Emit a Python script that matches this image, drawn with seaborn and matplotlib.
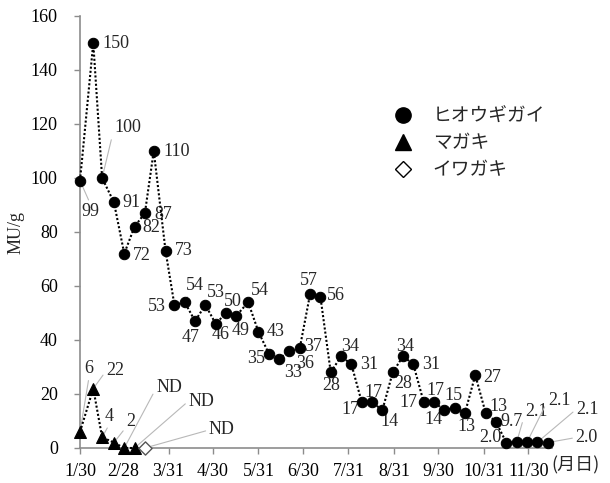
import numpy as np
import pandas as pd
import matplotlib
matplotlib.use('Agg')
import matplotlib.pyplot as plt
from matplotlib.lines import Line2D
import seaborn as sns

# データ (月/日, MU/g)
hiougi_dates = ['1/30', '2/8', '2/14', '2/22', '3/1', '3/8', '3/15', '3/21', '3/29', '4/4',
                '4/11', '4/18', '4/25', '5/2', '5/9', '5/16', '5/24', '5/31', '6/7', '6/14',
                '6/21', '6/28', '7/5', '7/12', '7/19', '7/26', '8/2', '8/9', '8/16', '8/23',
                '8/30', '9/6', '9/13', '9/20', '9/27', '10/4', '10/11', '10/18', '10/25', '11/1',
                '11/8', '11/15', '11/22', '11/29', '12/6', '12/13']
hiougi_mu = [99, 150, 100, 91, 72, 82, 87, 110, 73, 53,
             54, 47, 53, 46, 50, 49, 54, 43, 35, 33,
             36, 37, 57, 56, 28, 34, 31, 17, 17, 14,
             28, 34, 31, 17, 17, 14, 15, 13, 27, 13,
             9.7, 2.0, 2.1, 2.1, 2.1, 2.0]

magaki_dates = ['1/30', '2/8', '2/14', '2/22', '3/1', '3/8']
magaki_mu = [6, 22, 4, 2, 0, 0]
magaki_text = ['6', '22', '4', '2', 'ND', 'ND']

iwagaki_dates = ['3/15']
iwagaki_mu = [0]
iwagaki_text = ['ND']

xtick_labels = ['1/30', '2/28', '3/31', '4/30', '5/31', '6/30', '7/31', '8/31', '9/30', '10/31', '11/30']

start = pd.Timestamp('2013-01-30')


def day(s):
    return (pd.to_datetime('2013/' + s, format='%Y/%m/%d') - start).days


df_h = pd.DataFrame({'day': [day(d) for d in hiougi_dates], 'mu': hiougi_mu})
df_m = pd.DataFrame({'day': [day(d) for d in magaki_dates], 'mu': magaki_mu})
df_i = pd.DataFrame({'day': [day(d) for d in iwagaki_dates], 'mu': iwagaki_mu})

# ラベル位置 (dx, dy [px], ha, 引出線)
h_pos = [(1, -31, 'left', (0.5, 1)), (9, 0, 'left', None), (12, 50, 'left', (0, 0.5)),
         (8, 0, 'left', None), (9, -2, 'left', None), (8, -1, 'left', None),
         (9, -1, 'left', None), (10, 0, 'left', None), (9, 0, 'left', None),
         (-9, -2, 'right', None), (1, 17, 'left', (0.2, 0)), (-4, -16, 'center', None),
         (2, 12, 'left', None), (5, -11, 'center', None), (-2, 12, 'left', None),
         (-5, -15, 'left', None), (3, 12, 'left', None), (8, 0, 'left', None),
         (-4, -5, 'right', None), (14, -14, 'center', None), (7, -13, 'left', None),
         (4, 2, 'left', None), (-1, 14, 'center', None), (6, 1, 'left', None),
         (0, -13, 'center', None), (9, 10, 'center', None), (9, 0, 'left', None),
         (-2, -7, 'right', None), (1, 10, 'center', None), (7, -11, 'center', None),
         (10, -11, 'center', None), (2, 10, 'center', None), (9, 0, 'left', None),
         (-6, 0, 'right', None), (1, 12, 'center', None), (-2, -9, 'right', None),
         (-1, 12, 'center', None), (1, -14, 'center', None), (8, -2, 'left', None),
         (4, 6, 'left', None), (4, 0, 'left', None), (-5, 5, 'right', None),
         (9, 31, 'left', (0, 0.5)), (21, 42, 'left', (0, 0.5)), (39, 33, 'left', (0, 0.5)),
         (28, 5, 'left', (0, 0.5))]
m_pos = [(9, 63, 'center', (0.5, 0)), (13, 18, 'left', (0, 0.5)), (7, 21, 'center', (0.5, 0)),
         (17, 21, 'center', (0, 0.2)), (32, 60, 'left', (0, 0.5)), (54, 47, 'left', (0, 0.5))]
i_pos = [(64, 18, 'left', (0, 0.5))]

sns.set_style('ticks')
plt.rcParams['font.family'] = ['Liberation Serif', 'Noto Sans CJK JP']
FS = 13

fig = plt.figure(figsize=(6.1, 4.83), dpi=100)
ax = fig.add_axes([80 / 610, 35 / 483, 472 / 610, 432 / 483])

dots = (0, (1, 1))
sns.lineplot(data=df_h, x='day', y='mu', ax=ax, color='black', linestyle=dots, lw=1.5,
             marker='o', markersize=7.5, markeredgecolor='black')
sns.lineplot(data=df_m, x='day', y='mu', ax=ax, color='black', linestyle=dots, lw=1.5,
             marker='^', markersize=8, markeredgecolor='black')
sns.scatterplot(data=df_i, x='day', y='mu', ax=ax, marker='D', s=45,
                facecolor='white', edgecolor='#555555', linewidth=1, zorder=6)
for ln in ax.lines:
    ln.set_zorder(5)
    ln.set_clip_on(False)
for c in ax.collections:
    c.set_clip_on(False)

lead = dict(arrowstyle='-', color='#b8b8b8', lw=0.8, shrinkA=0, shrinkB=0)


def label(xs, ys, texts, pos):
    for x, y, t, (dx, dy, ha, rel) in zip(xs, ys, texts, pos):
        kw = {}
        if rel is not None:
            kw['arrowprops'] = dict(lead, relpos=rel)
        ax.annotate(t, xy=(x, y), xytext=(dx, dy), textcoords='offset pixels',
                    ha=ha, va='center', fontsize=FS, zorder=4, annotation_clip=False, **kw)


h_text = [f'{v:.1f}' if v < 10 else f'{v:.0f}' for v in hiougi_mu]
label(df_h['day'], df_h['mu'], h_text, h_pos)
label(df_m['day'], df_m['mu'], magaki_text, m_pos)
label(df_i['day'], df_i['mu'], iwagaki_text, i_pos)

ax.set_xlim(0, 320)
ax.set_ylim(0, 160)
ax.set_yticks(range(0, 161, 20))
ax.set_xticks([day(d) for d in xtick_labels])
ax.set_xticklabels(xtick_labels)
ax.set_xlabel('')
ax.set_ylabel('MU/g', fontsize=FS)
ax.yaxis.set_label_coords(-0.117, 0.5)
ax.text(0.999, -0.04, '(月日)', transform=ax.transAxes, ha='left', va='center',
        fontsize=FS, family=['Noto Sans CJK JP'])

sns.despine(ax=ax)
for s in ['left', 'bottom']:
    ax.spines[s].set_color('#8c8c8c')
    ax.spines[s].set_linewidth(1.2)
ax.tick_params(axis='y', colors='#8c8c8c', labelcolor='black', length=4, width=1, pad=12,
               labelsize=FS)
ax.tick_params(axis='x', colors='#8c8c8c', labelcolor='black', length=4, width=1, pad=7,
               labelsize=FS)

handles = [Line2D([], [], ls='none', marker='o', color='black', markersize=11),
           Line2D([], [], ls='none', marker='^', color='black', markersize=11),
           Line2D([], [], ls='none', marker='D', markerfacecolor='white',
                  markeredgecolor='black', markersize=8)]
ax.legend(handles, ['ヒオウギガイ', 'マガキ', 'イワガキ'], frameon=False,
          loc='upper left', bbox_to_anchor=((384 - 80) / 472, (448 - 96) / 432),
          prop={'family': 'Noto Sans CJK JP', 'size': 13.5},
          handlelength=1.0, handletextpad=1.1, labelspacing=0.32, borderpad=0)

fig.savefig('out.png', dpi=100)
